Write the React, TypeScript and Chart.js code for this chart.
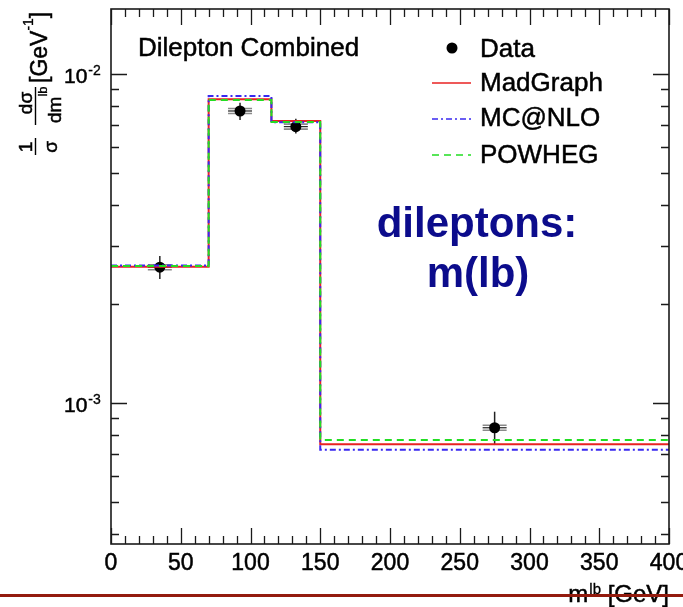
import { useEffect, useRef } from "react";
import { Chart, registerables } from "chart.js";

Chart.register(...registerables);

// Histogram binning in m(lb) [GeV]
const binEdges = [0, 70, 115, 150, 400];

// Measured normalised cross-section (data points at bin centres)
const dataCenters = [35, 92.5, 132.5, 275];
const dataValues = [2.59e-3, 7.72e-3, 6.92e-3, 8.43e-4];
const dataErrLow = [2.385e-3, 7.25e-3, 6.59e-3, 7.47e-4];
const dataErrHigh = [2.8e-3, 8.18e-3, 7.31e-3, 9.43e-4];

// Generator predictions, one value per bin
const madgraph = [2.6e-3, 8.38e-3, 7.2e-3, 7.51e-4];
const mcatnlo = [2.62e-3, 8.57e-3, 7.13e-3, 7.23e-4];
const powheg = [2.61e-3, 8.34e-3, 7.15e-3, 7.74e-4];

// Axis ticks and labels
const xTickValues = [0, 50, 100, 150, 200, 250, 300, 350, 400];
const xTickLabels = ["0", "50", "100", "150", "200", "250", "300", "350", "400"];
const yDecadeValues = [1e-3, 1e-2];
const yDecadeExponents = ["-3", "-2"];

const legendLabels = ["Data", "MadGraph", "MC@NLO", "POWHEG"];

const X_MIN = 0;
const X_MAX = 400;
const Y_MIN = 3.74e-4;
const Y_MAX = 1.575e-2;

const FONT = '"Liberation Sans", Arial, Helvetica, sans-serif';
const RED = "#e82222";
const BLUE = "#3a28f0";
const GREEN = "#22dd22";
const NAVY = "#0c0c8c";

function stepPoints(values: number[]) {
  return binEdges.map((x, i) => ({ x, y: values[Math.min(i, values.length - 1)] }));
}

// filled text with a hairline outline so glyphs read a little heavier
function heavyText(ctx: CanvasRenderingContext2D, text: string, x: number, y: number, w = 0.5) {
  ctx.fillText(text, x, y);
  ctx.lineWidth = w;
  ctx.strokeStyle = ctx.fillStyle as string;
  ctx.strokeText(text, x, y);
}

const decorations = {
  id: "decorations",
  beforeDraw(chart: any) {
    const { ctx, width, height } = chart;
    ctx.save();
    ctx.fillStyle = "#ffffff";
    ctx.fillRect(0, 0, width, height);
    ctx.restore();
  },
  beforeDatasetDraw(chart: any, args: any) {
    if (args.index !== 3) return;
    const { ctx } = chart;
    const xs = chart.scales.x;
    const ys = chart.scales.y;
    ctx.save();
    dataCenters.forEach((c, i) => {
      const px = xs.getPixelForValue(c);
      const py = ys.getPixelForValue(dataValues[i]);
      const lo = ys.getPixelForValue(dataErrLow[i]);
      const hi = ys.getPixelForValue(dataErrHigh[i]);
      ctx.strokeStyle = "#8a8a8a";
      ctx.lineWidth = 1.6;
      ctx.beginPath();
      ctx.moveTo(px - 12, py - 2.5);
      ctx.lineTo(px + 12, py - 2.5);
      ctx.moveTo(px - 12, py + 2.5);
      ctx.lineTo(px + 12, py + 2.5);
      ctx.stroke();
      ctx.strokeStyle = "#222";
      ctx.lineWidth = 1.2;
      ctx.beginPath();
      ctx.moveTo(px - 12, py);
      ctx.lineTo(px + 12, py);
      ctx.stroke();
      ctx.lineWidth = 1.5;
      ctx.beginPath();
      ctx.moveTo(px, hi);
      ctx.lineTo(px, lo);
      ctx.stroke();
    });
    ctx.restore();
  },
  afterDraw(chart: any) {
    const { ctx, chartArea } = chart;
    const { left, right, top, bottom } = chartArea;
    const xs = chart.scales.x;
    const ys = chart.scales.y;
    ctx.save();

    // frame
    ctx.strokeStyle = "#1a1a1a";
    ctx.lineWidth = 1.6;
    ctx.strokeRect(left, top, right - left, bottom - top);

    // x ticks (bottom and top, pointing inward)
    ctx.lineWidth = 1.3;
    ctx.beginPath();
    for (let v = X_MIN; v <= X_MAX; v += 10) {
      const px = Math.round(xs.getPixelForValue(v)) + 0.5;
      const len = v % 50 === 0 ? 16 : 8;
      ctx.moveTo(px, bottom);
      ctx.lineTo(px, bottom - len);
      ctx.moveTo(px, top);
      ctx.lineTo(px, top + len);
    }
    // y ticks (left and right)
    [1e-4, 1e-3, 1e-2].forEach((d) => {
      for (let k = 1; k <= 9; k++) {
        const v = k * d;
        if (v < Y_MIN || v > Y_MAX) continue;
        const py = Math.round(ys.getPixelForValue(v)) + 0.5;
        const len = k === 1 ? 16 : 8;
        ctx.moveTo(left, py);
        ctx.lineTo(left + len, py);
        ctx.moveTo(right, py);
        ctx.lineTo(right - len, py);
      }
    });
    ctx.stroke();

    ctx.fillStyle = "#000";
    // x tick labels
    ctx.font = `23px ${FONT}`;
    ctx.textAlign = "center";
    ctx.textBaseline = "alphabetic";
    xTickValues.forEach((v, i) => {
      heavyText(ctx, xTickLabels[i], xs.getPixelForValue(v), 570);
    });

    // y tick labels 10^n
    yDecadeValues.forEach((v, i) => {
      const py = ys.getPixelForValue(v);
      ctx.textAlign = "left";
      ctx.font = `21px ${FONT}`;
      heavyText(ctx, "10", 64, py + 9);
      const w = ctx.measureText("10").width;
      ctx.font = `14px ${FONT}`;
      heavyText(ctx, yDecadeExponents[i], 64 + w + 1, py + 1, 0.3);
    });

    // x axis title: m^lb [GeV]
    ctx.textAlign = "right";
    ctx.font = `24px ${FONT}`;
    heavyText(ctx, "[GeV]", right, 602);
    const gw = ctx.measureText("[GeV]").width + ctx.measureText(" ").width;
    ctx.font = `15px ${FONT}`;
    heavyText(ctx, "lb", right - gw, 594, 0.3);
    const lw = ctx.measureText("lb").width;
    ctx.font = `24px ${FONT}`;
    heavyText(ctx, "m", right - gw - lw - 1, 602);

    // y axis title: 1/σ dσ/dm^lb [GeV^-1], rotated
    ctx.save();
    ctx.translate(35, 157);
    ctx.rotate(-Math.PI / 2);
    ctx.textAlign = "center";
    ctx.font = `19px ${FONT}`;
    heavyText(ctx, "1", 10, -3);
    heavyText(ctx, "σ", 10, 22);
    heavyText(ctx, "dσ", 54, -3);
    ctx.lineWidth = 1.4;
    ctx.strokeStyle = "#000";
    ctx.beginPath();
    ctx.moveTo(2, 0.5);
    ctx.lineTo(19, 0.5);
    ctx.moveTo(32, 0.5);
    ctx.lineTo(70, 0.5);
    ctx.stroke();
    ctx.textAlign = "left";
    const dmw = ctx.measureText("dm").width;
    heavyText(ctx, "dm", 34, 26);
    ctx.font = `13px ${FONT}`;
    heavyText(ctx, "lb", 34 + dmw, 12, 0.3);
    ctx.font = `23px ${FONT}`;
    heavyText(ctx, "[GeV", 74, 12);
    const gvw = ctx.measureText("[GeV").width;
    ctx.font = `14px ${FONT}`;
    heavyText(ctx, "-1", 74 + gvw, -2, 0.3);
    const ew = ctx.measureText("-1").width;
    ctx.font = `23px ${FONT}`;
    heavyText(ctx, "]", 74 + gvw + ew, 12);
    ctx.restore();

    // header
    ctx.fillStyle = "#000";
    ctx.textAlign = "left";
    ctx.font = `26px ${FONT}`;
    heavyText(ctx, "Dilepton Combined", 138, 56);

    // legend
    const rowsText = [57, 91, 126, 163];
    const rowsMark = [48, 83, 119, 155];
    ctx.font = `26px ${FONT}`;
    legendLabels.forEach((lab, i) => heavyText(ctx, lab, 480, rowsText[i]));
    ctx.beginPath();
    ctx.arc(452, rowsMark[0], 5.5, 0, Math.PI * 2);
    ctx.fill();
    const legLines = [
      { color: RED, dash: [] as number[] },
      { color: BLUE, dash: [6, 3, 2, 3] },
      { color: GREEN, dash: [7, 5] },
    ];
    legLines.forEach((l, i) => {
      ctx.strokeStyle = l.color;
      ctx.lineWidth = 1.6;
      ctx.setLineDash(l.dash);
      ctx.beginPath();
      ctx.moveTo(432, rowsMark[i + 1]);
      ctx.lineTo(471, rowsMark[i + 1]);
      ctx.stroke();
    });
    ctx.setLineDash([]);

    // annotation
    ctx.fillStyle = NAVY;
    ctx.textAlign = "center";
    ctx.font = `bold 42px ${FONT}`;
    ctx.fillText("dileptons:", 477, 237);
    ctx.fillText("m(lb)", 478, 287);

    // separator rule
    ctx.fillStyle = "#931b0e";
    ctx.fillRect(0, 594, chart.width, 3);

    ctx.restore();
  },
};

export default function App() {
  const canvasRef = useRef<HTMLCanvasElement | null>(null);

  useEffect(() => {
    document.body.style.margin = "0";
    const canvas = canvasRef.current;
    if (!canvas) return;
    const chart = new Chart(canvas, {
      type: "line",
      data: {
        datasets: [
          {
            label: "POWHEG",
            data: stepPoints(powheg),
            stepped: true,
            borderColor: GREEN,
            borderWidth: 2,
            borderDash: [7, 5],
            pointRadius: 0,
            fill: false,
          },
          {
            label: "MC@NLO",
            data: stepPoints(mcatnlo),
            stepped: true,
            borderColor: BLUE,
            borderWidth: 2,
            borderDash: [6, 3, 2, 3],
            pointRadius: 0,
            fill: false,
          },
          {
            label: "MadGraph",
            data: stepPoints(madgraph),
            stepped: true,
            borderColor: RED,
            borderWidth: 2,
            pointRadius: 0,
            fill: false,
          },
          {
            label: "Data",
            data: dataCenters.map((x, i) => ({ x, y: dataValues[i] })),
            showLine: false,
            pointRadius: 5.5,
            pointBackgroundColor: "#000",
            pointBorderColor: "#000",
            pointBorderWidth: 0,
          },
        ],
      },
      options: {
        responsive: false,
        animation: false,
        devicePixelRatio: 1,
        layout: { padding: { left: 111, right: 14, top: 9, bottom: 63 } },
        plugins: {
          legend: { display: false },
          tooltip: { enabled: false },
        },
        events: [],
        scales: {
          x: { type: "linear", min: X_MIN, max: X_MAX, display: false },
          y: { type: "logarithmic", min: Y_MIN, max: Y_MAX, display: false },
        },
      },
      plugins: [decorations],
    });
    return () => chart.destroy();
  }, []);

  return (
    <div style={{ position: "fixed", left: 0, top: 0, width: 683, height: 607 }}>
      <canvas ref={canvasRef} width={683} height={607} />
    </div>
  );
}
